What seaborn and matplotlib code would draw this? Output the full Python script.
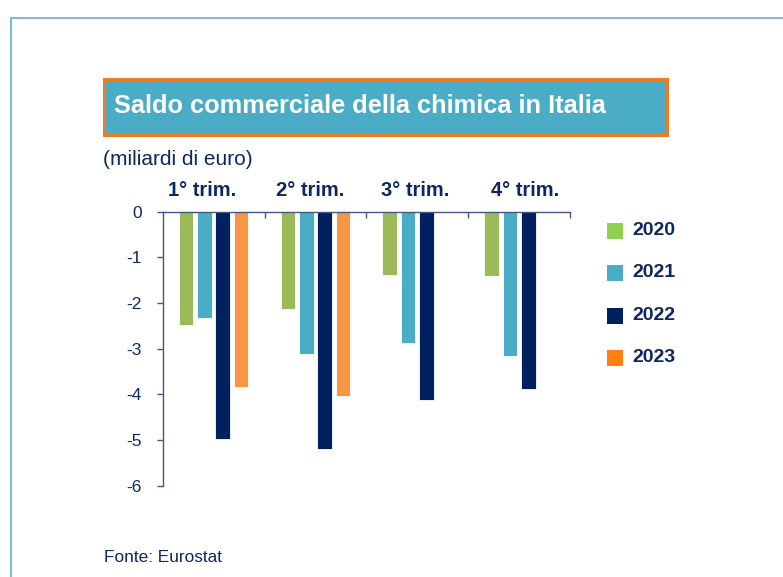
import numpy as np
import pandas as pd
import matplotlib
matplotlib.use("Agg")
import matplotlib.pyplot as plt
from matplotlib.patches import Rectangle
from matplotlib.transforms import ScaledTranslation
import seaborn as sns

# ---- data ----
quarters = ["1° trim.", "2° trim.", "3° trim.", "4° trim."]
years = ["2020", "2021", "2022", "2023"]
v2020 = [-2.48, -2.13, -1.38, -1.40]
v2021 = [-2.34, -3.12, -2.87, -3.15]
v2022 = [-4.98, -5.20, -4.13, -3.89]
v2023 = [-3.85, -4.04, np.nan, np.nan]
yticks = [0, -1, -2, -3, -4, -5, -6]

# style (label offsets in pixels, as placed in the original)
label_dx = [-11.6, -4.9, -1.9, 6.0]
bar_colors = ["#9BBB59", "#4BACC6", "#002060", "#F79646"]
legend_colors = ["#92D050", "#4BACC6", "#002060", "#FF7F10"]
navy = "#0F2660"

rows = []
for y, vals in zip(years, [v2020, v2021, v2022, v2023]):
    for q, v in zip(quarters, vals):
        rows.append({"trim": q, "anno": y, "valore": v})
df = pd.DataFrame(rows)

sns.set_style("white")
plt.rcParams["font.family"] = ["Liberation Sans", "DejaVu Sans"]

W, H = 783, 577
fig = plt.figure(figsize=(W / 100, H / 100), dpi=100)

def fx(px):
    return px / W

def fy(py):
    return 1 - py / H

ax = fig.add_axes([fx(162.7), fy(485.7), fx(570) - fx(162.7), fy(211.6) - fy(485.7)])

sns.barplot(data=df.dropna(), x="trim", y="valore", hue="anno", order=quarters,
            hue_order=years, palette=bar_colors, width=0.72, gap=0.2,
            edgecolor="white", linewidth=0.6, ax=ax, legend=False, errorbar=None,
            saturation=1)

ax.set_xlim(-0.5, 3.5)
ax.set_ylim(-6, 0)
ax.set_xlabel("")
ax.set_ylabel("")

for s in ["bottom", "right"]:
    ax.spines[s].set_visible(False)
for s in ["top", "left"]:
    ax.spines[s].set_visible(True)
    ax.spines[s].set_color("#44567F")
    ax.spines[s].set_linewidth(1.0)

ax.xaxis.tick_top()
ax.set_xticks([0.5, 1.5, 2.5, 3.5])
ax.set_xticklabels([])
ax.tick_params(axis="x", which="major", direction="in", length=4, color="#44567F", width=1)

for i, (q, dx) in enumerate(zip(quarters, label_dx)):
    tr = ax.get_xaxis_transform() + ScaledTranslation(dx / 100, 20.6 / 100, fig.dpi_scale_trans)
    ax.text(i, 1, q, transform=tr, ha="center", va="center", fontsize=14.5,
            fontweight="bold", color=navy)

ax.set_yticks(yticks)
ax.set_yticklabels([str(v) for v in yticks])
ax.tick_params(axis="y", direction="out", length=4, color="#44567F", width=1,
               pad=11, labelsize=12.5, labelcolor=navy, left=True)

# outer frame
fig.patches.append(Rectangle((fx(11), -0.05), 1.2, fy(18) + 0.05, transform=fig.transFigure,
                             fill=False, edgecolor="#6DB6CF", linewidth=1.3, zorder=0))

# title box
fig.patches.append(Rectangle((fx(104), fy(135)), fx(667) - fx(104), fy(79) - fy(135),
                             transform=fig.transFigure, facecolor="#4BACC6",
                             edgecolor="#F47B20", linewidth=2.2, zorder=1))
fig.text(fx(114), fy(106), "Saldo commerciale della chimica in Italia", color="white",
         fontsize=18.3, fontweight="bold", va="center", ha="left", zorder=2)

fig.text(fx(103), fy(159.5), "(miliardi di euro)", color=navy, fontsize=15,
         va="center", ha="left")

# legend
leg_y = [230.7, 272.5, 316, 357.5]
for yr, c, py in zip(years, legend_colors, leg_y):
    fig.patches.append(Rectangle((fx(607), fy(py + 8)), fx(16), 16 / H,
                                 transform=fig.transFigure, facecolor=c, edgecolor="none"))
    fig.text(fx(632), fy(py), yr, color=navy, fontsize=14, fontweight="bold",
             va="center", ha="left")

fig.text(fx(104), fy(558), "Fonte: Eurostat", color=navy, fontsize=12.4,
         va="center", ha="left")

fig.savefig("out.png", dpi=100)
